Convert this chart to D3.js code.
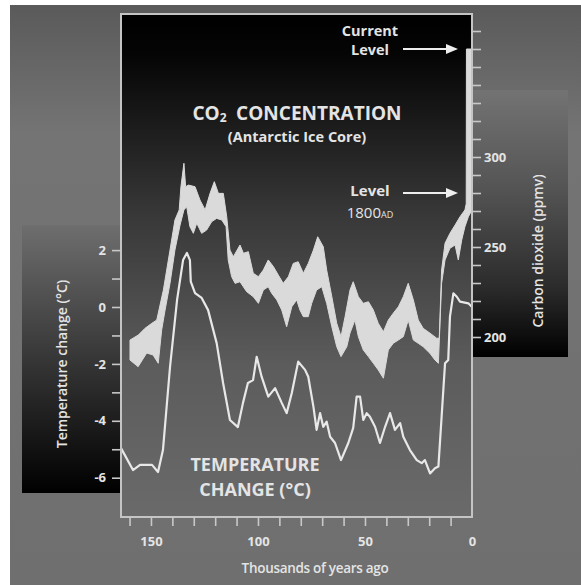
<!DOCTYPE html>
<html>
<head>
<meta charset="utf-8">
<script src="https://cdn.jsdelivr.net/npm/d3@7"></script>
<style>
    body { margin: 0; background: #fff; }
    svg { display: block; }
    text { font-family: "Open Sans", "Lato", sans-serif; fill: #e4e4e4; }
</style>
</head>
<body>
<div id="chart"></div>
<script>
// temperature change (deg C) by thousands of years ago
const tempAge = [164, 158.4, 155.1, 149.5, 146.7, 144.4, 141.1, 137.8, 135.0, 133.2, 131.8, 131.4, 129.4, 126.3, 123.3, 119.3, 116.3, 113.1, 109.4, 107.0, 104.7, 102.3, 100.6, 98.3, 95.2, 92.0, 88.9, 86.6, 84.2, 81.2, 78.0, 76.5, 74.1, 72.6, 71.0, 69.5, 67.9, 66.3, 64.0, 61.2, 57.8, 55.5, 53.9, 52.3, 50.8, 49.2, 47.7, 45.3, 43.0, 40.6, 38.3, 36.0, 33.6, 32.1, 29.0, 25.8, 23.5, 22.0, 19.6, 17.3, 15.7, 14.2, 12.6, 11.1, 10.3, 8.7, 7.1, 5.6, 1.7, 0];
const tempValue = [-4.96, -5.73, -5.55, -5.55, -5.80, -5.03, -2.11, 0.25, 1.65, 1.90, 1.65, 0.89, 0.49, 0.32, -0.11, -1.27, -2.67, -3.97, -4.22, -3.37, -2.67, -2.57, -1.75, -2.45, -3.15, -2.85, -3.37, -3.73, -3.02, -1.92, -2.21, -2.45, -3.50, -4.32, -3.73, -4.21, -4.03, -4.56, -4.78, -5.38, -4.78, -4.25, -3.15, -3.15, -3.97, -3.73, -3.86, -4.21, -4.78, -4.21, -3.73, -4.32, -4.08, -4.56, -5.03, -5.38, -5.49, -5.38, -5.85, -5.67, -5.61, -3.86, -1.98, -1.86, -0.34, 0.48, 0.36, 0.19, 0.13, 0.0];

// CO2 band (ppmv): upper and lower edge
const co2TopAge = [159.8, 155.9, 152.8, 149.6, 147.3, 144.2, 141.1, 138.8, 136.8, 136.0, 134.6, 133.8, 132.5, 129.4, 127.1, 124.7, 122.4, 120.4, 118.5, 116.2, 114.6, 113.1, 111.5, 108.4, 106.8, 104.5, 102.2, 99.8, 97.5, 95.2, 92.8, 90.5, 88.2, 85.8, 83.5, 81.2, 78.8, 76.5, 74.1, 72.1, 69.5, 67.9, 65.5, 63.2, 61.2, 59.3, 57.0, 55.5, 53.1, 50.8, 48.4, 46.1, 43.8, 41.4, 39.1, 36.8, 34.4, 32.1, 29.8, 27.4, 25.1, 22.8, 19.6, 16.5, 15.3, 14.2, 12.6, 10.3, 7.9, 5.6, 3.3, 2.7, 2.6, 0];
const co2Top = [198.3, 201.1, 204.8, 207.6, 209.4, 226.1, 248.3, 265.0, 270.6, 283.5, 296.5, 283.5, 284.4, 283.5, 276.1, 270.6, 279.8, 286.3, 279.8, 279.8, 266.8, 248.3, 244.6, 251.1, 246.5, 247.4, 235.4, 233.5, 237.2, 242.8, 239.1, 234.4, 229.8, 233.5, 240.9, 241.8, 235.4, 240.9, 248.3, 255.7, 250.2, 237.2, 222.4, 207.6, 200.2, 211.3, 226.1, 230.7, 222.4, 218.7, 219.6, 215.0, 207.6, 202.9, 209.4, 213.2, 216.8, 222.4, 229.8, 220.6, 209.4, 204.8, 202.1, 199.3, 199.3, 237.2, 252.1, 257.6, 262.2, 266.8, 270.6, 274, 360, 360];
const co2BottomAge = [159.8, 156.0, 152.0, 149.0, 146.6, 145.0, 143.4, 141.1, 138.8, 136.4, 134.6, 133.3, 131.8, 130.2, 128.6, 126.3, 124.0, 121.6, 119.3, 116.9, 114.9, 113.9, 112.3, 110.7, 108.4, 105.3, 102.2, 99.8, 97.5, 95.2, 93.6, 91.2, 88.9, 86.6, 84.2, 81.9, 80.4, 78.8, 76.5, 74.9, 72.6, 70.2, 67.9, 65.5, 63.2, 61.2, 58.5, 57.0, 54.7, 53.1, 50.8, 48.4, 46.1, 43.8, 41.4, 39.1, 36.8, 34.4, 32.1, 29.8, 27.4, 25.1, 22.8, 19.6, 17.3, 15.7, 14.2, 12.6, 10.3, 7.9, 6.4, 4.8, 3.3, 1.7, 0];
const co2Bottom = [187.2, 183.5, 191.1, 190.0, 185.4, 203.9, 215.0, 229.8, 248.3, 262.2, 270.6, 272.4, 261.3, 257.6, 263.2, 257.6, 259.4, 264.1, 265.9, 265.0, 261.3, 242.8, 233.5, 229.8, 230.7, 225.2, 222.4, 218.7, 226.1, 227.9, 224.3, 220.6, 215.0, 205.7, 216.8, 220.6, 215.0, 211.3, 211.3, 218.7, 226.1, 227.9, 218.7, 205.7, 194.6, 189.1, 194.6, 202.2, 209.4, 200.2, 192.8, 189.1, 185.4, 181.7, 177.1, 192.8, 196.5, 198.3, 200.2, 209.4, 198.3, 196.5, 194.6, 190.9, 187.2, 185.4, 229.8, 242.8, 249.3, 251.1, 242.8, 253.9, 261.3, 266.8, 270.6];

// axis ticks
const tempTicks = [-6, -5, -4, -3, -2, -1, 0, 1, 2];
const tempLabels = [-6, -4, -2, 0, 2];
const co2Ticks = d3.range(200, 371, 10);
const co2Labels = [200, 250, 300];
const ageTicks = d3.range(10, 161, 10);
const ageLabels = [0, 50, 100, 150];
const currentLevel = 360, level1800 = 280;

const W = 581, H = 585;
const panel = {left: 121, top: 14, right: 472, bottom: 517};

const svg = d3.select("#chart")
    .append("svg")
    .attr("width", W)
    .attr("height", H);

const defs = svg.append("defs");
function vGrad(id, stops) {
    const g = defs.append("linearGradient")
        .attr("id", id)
        .attr("x1", 0).attr("y1", 0).attr("x2", 0).attr("y2", 1);
    stops.forEach(s => g.append("stop").attr("offset", s[0]).attr("stop-color", s[1]));
}
vGrad("bg", [[0, "#5a5a5a"], [0.22, "#747474"], [1, "#6f6f6f"]]);
vGrad("panel", [[0, "#000"], [0.08, "#050505"], [0.4, "#383838"], [0.7, "#5c5c5c"], [1, "#6a6a6a"]]);
vGrad("leftBox", [[0, "#6e6e6e"], [0.45, "#3c3c3c"], [1, "#000"]]);
vGrad("rightBox", [[0, "#737373"], [0.35, "#565656"], [0.75, "#2a2a2a"], [1, "#000"]]);

// background
svg.append("rect").attr("x", 10).attr("y", 5).attr("width", W - 10).attr("height", H - 5).attr("fill", "url(#bg)");

// scales
const x = d3.scaleLinear().domain([164, 0]).range([panel.left, panel.right]);
const yT = d3.scaleLinear().domain([-6, 2]).range([477.7, 250.1]);
const yC = d3.scaleLinear().domain([200, 300]).range([337, 157]);

// dark axis boxes
svg.append("rect").attr("x", 22).attr("y", 225).attr("width", panel.left - 22).attr("height", 493 - 225).attr("fill", "url(#leftBox)");
svg.append("rect").attr("x", panel.right).attr("y", 90).attr("width", 568 - panel.right).attr("height", 357 - 90).attr("fill", "url(#rightBox)");

// plot panel
svg.append("rect")
    .attr("x", panel.left).attr("y", panel.top)
    .attr("width", panel.right - panel.left).attr("height", panel.bottom - panel.top)
    .attr("fill", "url(#panel)");

const plot = svg.append("g");

// CO2 band
const band = co2TopAge.map((a, i) => [a, co2Top[i]])
    .concat(co2BottomAge.map((a, i) => [a, co2Bottom[i]]).reverse());
plot.append("path")
    .attr("d", d3.line().x(d => x(d[0])).y(d => yC(d[1]))(band) + "Z")
    .attr("fill", "#dadada")
    .attr("stroke", "#dadada")
    .attr("stroke-width", 1);

// temperature line
plot.append("path")
    .datum(tempAge.map((a, i) => [a, tempValue[i]]))
    .attr("d", d3.line().x(d => x(d[0])).y(d => yT(d[1])))
    .attr("fill", "none")
    .attr("stroke", "#e8e8e8")
    .attr("stroke-width", 2.2)
    .attr("stroke-linejoin", "round");

// panel border
svg.append("rect")
    .attr("x", panel.left).attr("y", panel.top)
    .attr("width", panel.right - panel.left).attr("height", panel.bottom - panel.top)
    .attr("fill", "none")
    .attr("stroke", "#c4c4c4")
    .attr("stroke-width", 2);

// axes
function styleAxis(g) {
    g.select(".domain").remove();
    g.selectAll(".tick line").attr("stroke", "#c8c8c8").attr("stroke-width", 1.6);
    g.selectAll(".tick text")
        .style("font-size", "13px")
        .style("font-weight", "bold")
        .attr("fill", "#dcdcdc");
}

svg.append("g")
    .attr("transform", `translate(${panel.left},0)`)
    .call(d3.axisLeft(yT).tickValues(tempTicks).tickSize(9).tickPadding(6)
        .tickFormat(d => tempLabels.includes(d) ? String(d) : ""))
    .call(styleAxis);

svg.append("g")
    .attr("transform", `translate(${panel.right},0)`)
    .call(d3.axisRight(yC).tickValues(co2Ticks).tickSize(9).tickPadding(3)
        .tickFormat(d => co2Labels.includes(d) ? String(d) : ""))
    .call(styleAxis);

svg.append("g")
    .attr("transform", `translate(0,${panel.bottom})`)
    .call(d3.axisBottom(x).tickValues(ageTicks).tickSize(9).tickFormat(""))
    .call(styleAxis);

svg.append("g")
    .attr("transform", `translate(0,${panel.bottom})`)
    .call(d3.axisBottom(x).tickValues(ageLabels).tickSize(0).tickPadding(20))
    .call(styleAxis);

// axis titles
svg.append("text")
    .attr("transform", "translate(67,364)rotate(-90)")
    .attr("text-anchor", "middle")
    .style("font-size", "14px")
    .style("font-weight", "600")
    .text("Temperature change (°C)");

svg.append("text")
    .attr("transform", "translate(543,251)rotate(-90)")
    .attr("text-anchor", "middle")
    .style("font-size", "14px")
    .style("font-weight", "600")
    .text("Carbon dioxide (ppmv)");

svg.append("text")
    .attr("x", 315).attr("y", 573)
    .attr("text-anchor", "middle")
    .style("font-size", "13.5px")
    .style("font-weight", "600")
    .style("letter-spacing", "-0.3px")
    .text("Thousands of years ago");

// annotations
const title = svg.append("text")
    .attr("x", 297).attr("y", 120)
    .attr("text-anchor", "middle")
    .style("font-size", "19px")
    .style("font-weight", "bold");
title.append("tspan").text("CO");
title.append("tspan").text("2").style("font-size", "12px").attr("dy", 2);
title.append("tspan").text("\u2002CONCENTRATION").attr("dy", -2);

svg.append("text")
    .attr("x", 297).attr("y", 142)
    .attr("text-anchor", "middle")
    .style("font-size", "14.5px")
    .style("font-weight", "bold")
    .text("(Antarctic Ice Core)");

svg.append("text")
    .attr("x", 255).attr("y", 471)
    .attr("text-anchor", "middle")
    .style("font-size", "18px")
    .style("font-weight", "bold")
    .text("TEMPERATURE");
svg.append("text")
    .attr("x", 255).attr("y", 496)
    .attr("text-anchor", "middle")
    .style("font-size", "18px")
    .style("font-weight", "bold")
    .text("CHANGE (°C)");

const label = svg.append("g").style("font-weight", "bold");
label.append("text").attr("x", 370).attr("y", 36).attr("text-anchor", "middle").style("font-size", "14.5px").text("Current");
label.append("text").attr("x", 370).attr("y", 55).attr("text-anchor", "middle").style("font-size", "14.5px").text("Level");
label.append("text").attr("x", 370).attr("y", 196).attr("text-anchor", "middle").style("font-size", "15px").text("Level");
const ad = label.append("text").attr("x", 370).attr("y", 218).attr("text-anchor", "middle").style("font-size", "15px").style("font-weight", "normal");
ad.append("tspan").text("1800");
ad.append("tspan").text("AD").style("font-size", "9px");

// arrows
[currentLevel, level1800].forEach(v => {
    const yy = yC(v);
    svg.append("line")
        .attr("x1", 403).attr("x2", 448)
        .attr("y1", yy).attr("y2", yy)
        .attr("stroke", "#eee")
        .attr("stroke-width", 2);
    svg.append("path")
        .attr("d", `M${446},${yy - 5}L${458},${yy}L${446},${yy + 5}Z`)
        .attr("fill", "#eee");
});
</script>
</body>
</html>
